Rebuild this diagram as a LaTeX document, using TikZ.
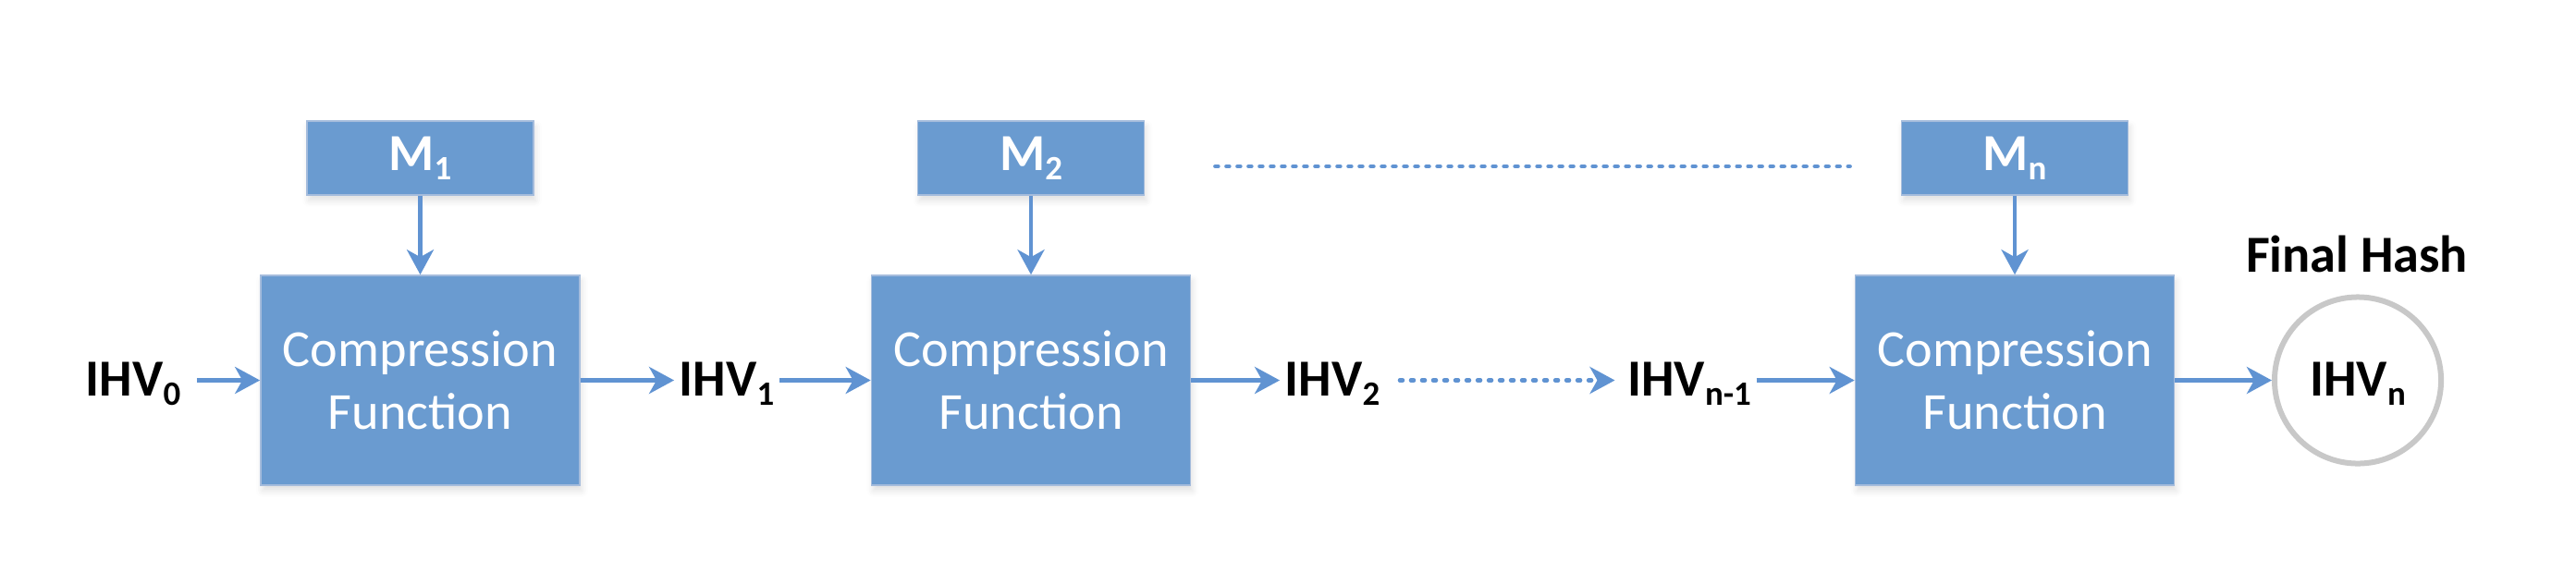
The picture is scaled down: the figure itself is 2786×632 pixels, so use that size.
\documentclass[tikz,border=0pt]{standalone}
\usepackage{fontspec}
\setmainfont{Carlito}
\usetikzlibrary{arrows.meta,shadows.blur}

\definecolor{boxblue}{RGB}{106,155,208}
\definecolor{edgeblue}{RGB}{165,188,220}
\definecolor{arrowblue}{RGB}{96,147,210}
\definecolor{ringgray}{RGB}{200,200,200}

\newcommand{\lowidx}[1]{\raisebox{-0.1cm}{\fontsize{10.5}{11}\selectfont #1}}

\begin{document}
\begin{tikzpicture}[x=0.01cm,y=0.01cm,
  cfbox/.style={rectangle,fill=boxblue,draw=edgeblue,line width=0.015cm,
    minimum width=3.45cm,minimum height=2.27cm,text=white,align=center,
    font=\fontsize{16}{19.3}\selectfont,
    blur shadow={shadow xshift=0.02cm,shadow yshift=-0.06cm,shadow opacity=12}},
  msgbox/.style={cfbox,minimum width=2.45cm,minimum height=0.8cm,
    font=\bfseries\fontsize{16}{19}\selectfont},
  ihv/.style={inner sep=0.05cm,text height=0.34cm,text depth=0cm,
    font=\bfseries\fontsize{16}{19}\selectfont},
  ring/.style={ihv,circle,draw=ringgray,line width=0.06cm,fill=white,
    minimum size=1.8cm},
  flow/.style={draw=arrowblue,line width=0.045cm,
    -{Stealth[length=0.27cm,width=0.29cm,inset=0.08cm]}},
  dotline/.style={draw=arrowblue,line width=0.045cm,line cap=round,
    dash pattern=on 0.03cm off 0.09cm},
  dotflow/.style={flow,line cap=round,dash pattern=on 0.03cm off 0.09cm}]
\useasboundingbox (0,0) rectangle (2786,632);

\node[cfbox] (cf1) at (454.5,220.5) {Compression\\Function};
\node[cfbox] (cf2) at (1115,220.5) {Compression\\Function};
\node[cfbox] (cfn) at (2179,220.5) {Compression\\Function};

\node[msgbox] (m1) at (454.5,461) {M\lowidx{1}};
\node[msgbox] (m2) at (1115,461) {M\lowidx{2}};
\node[msgbox] (mn) at (2179,461) {M\lowidx{n}};

\node[ihv] (h0) at (144,220.5) {IHV\lowidx{0}};
\node[ihv] (h1) at (786,220.5) {IHV\lowidx{1}};
\node[ihv] (h2) at (1441,220.5) {IHV\lowidx{2}};
\node[ihv] (hn1) at (1827,220.5) {IHV\lowidx{n-1}};
\node[ring] (hn) at (2550,220.5) {IHV\lowidx{n}};
\node[ihv] (fh) at (2549,355) {Final Hash};

% message blocks
\draw[flow] (m1) -- (cf1);
\draw[flow] (m2) -- (cf2);
\draw[flow] (mn) -- (cfn);
\draw[dotline,shorten <=0.76cm,shorten >=0.55cm] ([yshift=-0.09cm]m2.east) -- ([yshift=-0.09cm]mn.west);

% chaining values
\draw[flow,shorten <=0.12cm] (h0) -- (cf1);
\draw[flow] (cf1) -- (h1);
\draw[flow] (h1) -- (cf2);
\draw[flow] (cf2) -- (h2);
\draw[dotflow,shorten <=0.16cm,shorten >=0.08cm] (h2) -- (hn1);
\draw[flow] (hn1) -- (cfn);
\draw[flow] (cfn) -- (hn);
\end{tikzpicture}
\end{document}
